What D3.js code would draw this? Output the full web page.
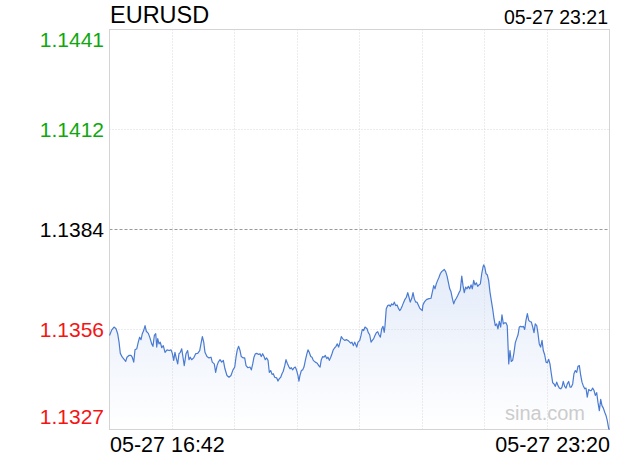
<!DOCTYPE html>
<html><head><meta charset="utf-8">
<script src="https://cdn.jsdelivr.net/npm/d3@7"></script>
<style>body{margin:0;background:#fff}svg{display:block}</style>
</head><body><svg id="c" width="620" height="460"></svg>
<script>
const symbol = "EURUSD";
const updateTime = "05-27 23:21";
const xLabels = ["05-27 16:42", "05-27 23:20"];
const sessionMinutes = 398;
const yTickValues = [1.1441, 1.14125, 1.1384, 1.13555, 1.1327];
const yTickLabels = ["1.1441", "1.1412", "1.1384", "1.1356", "1.1327"];
const prevClose = 1.1384;
const watermark = "sina.com";

const times = [0,1.8,3.6,5.2,6.5,7.6,8.6,10.2,11.8,12.9,13.9,15.5,17.1,18.1,19.3,20.3,21.7,22.9,24.0,25.1,26.1,27.2,28.3,29.3,30.9,32.2,33.6,34.6,35.7,36.8,37.6,38.4,39.4,40.4,41.6,42.8,44.2,45.8,47.4,49.0,50.0,51.1,52.1,53.2,54.3,55.3,56.4,57.5,58.5,59.5,60.9,62.2,63.3,64.3,65.4,67.0,68.6,70.2,71.8,72.8,73.9,75.0,76.0,77.6,79.2,80.8,81.8,83.4,84.5,85.6,86.6,88.0,89.3,90.6,91.9,93.5,95.1,96.7,98.3,
99.7,100.7,101.7,102.8,103.9,104.9,106.5,107.6,108.7,110.2,111.8,112.9,114.0,115.0,116.1,117.2,118.8,119.8,120.8,121.9,123.0,124.0,125.1,126.2,127.2,128.3,129.4,130.4,131.5,133.1,134.1,135.2,136.3,137.3,138.3,139.5,140.5,141.5,142.6,143.7,144.7,145.8,146.9,147.9,149.0,150.0,150.8,151.6,152.7,153.8,154.8,155.9,157.0,158.0,159.0,160.2,161.2,162.2,163.8,165.4,166.5,167.6,168.6,169.7,170.7,171.8,172.9,173.9,175.0,176.1,177.1,178.1,179.3,180.3,181.3,182.4,183.5,184.5,185.6,187.2,188.8,190.4,192.0,193.0,194.1,195.2,196.8,197.8,199.2,
200.2,201.2,202.3,203.4,205.0,206.0,207.1,208.2,209.2,210.3,211.3,212.4,213.5,214.5,215.6,216.7,217.7,218.7,219.3,220.3,221.4,222.5,223.5,224.6,225.7,226.7,227.8,228.9,229.9,231.0,232.0,233.1,234.2,235.2,236.3,237.4,238.4,239.4,240.6,241.6,242.6,243.7,244.8,245.8,246.9,248.0,249.0,249.5,250.6,251.7,252.7,254.3,255.9,256.9,258.1,259.1,260.1,261.2,262.3,263.3,264.4,265.5,266.5,267.6,268.7,269.7,270.8,271.8,272.9,274.0,275.0,276.1,277.2,278.2,279.2,280.4,281.4,282.4,283.5,284.6,285.6,286.7,287.8,288.8,289.9,290.9,292.0,293.1,294.1,295.2,296.3,297.3,297.9,298.7,299.7,300.7,301.8,302.9,303.9,305.0,306.1,307.1,308.2,309.2,310.3,311.4,312.4,313.5,314.6,315.6,316.6,317.8,318.8,319.8,320.9,322.0,323.0,324.1,325.2,326.2,327.3,328.4,329.4,330.5,331.5,332.6,333.7,334.7,335.8,336.9,337.9,338.9,340.1,341.1,342.1,343.2,344.3,345.3,346.4,347.5,348.5,349.6,350.6,351.7,352.8,353.8,354.9,356.0,357.0,358.1,359.2,360.2,361.2,362.3,363.4,364.4,365.5,366.6,367.6,368.7,369.7,370.8,371.9,372.9,374.0,375.1,376.1,377.1,378.3,379.3,380.3,381.4,382.5,383.5,384.6,385.7,386.7,387.8,388.8,389.9,391.0,392.0,393.1,394.2,395.2,396.2,397.4,398.0];

const prices = [1.13538,1.13554,1.13562,1.13557,1.13543,1.13519,1.13487,1.13476,1.13469,1.13464,1.13476,1.13481,1.13481,1.13476,1.13462,1.13497,1.13500,1.13519,1.13533,1.13526,1.13543,1.13552,1.13566,1.13550,1.13544,1.13531,1.13514,1.13507,1.13538,1.13543,1.13505,1.13529,1.13514,1.13519,1.13503,1.13509,1.13490,1.13497,1.13495,1.13497,1.13487,1.13467,1.13490,1.13472,1.13457,1.13486,1.13490,1.13500,1.13476,1.13452,1.13486,1.13495,1.13469,1.13476,1.13469,1.13474,1.13486,1.13487,1.13495,1.13514,1.13535,1.13519,1.13490,1.13478,1.13474,1.13476,1.13462,1.13457,1.13433,1.13452,1.13462,1.13469,1.13462,1.13467,1.13443,1.13424,1.13419,1.13424,1.13440,
1.13448,1.13476,1.13497,1.13507,1.13495,1.13478,1.13474,1.13474,1.13452,1.13446,1.13448,1.13440,1.13457,1.13476,1.13486,1.13487,1.13484,1.13486,1.13478,1.13486,1.13478,1.13469,1.13474,1.13467,1.13433,1.13438,1.13427,1.13429,1.13419,1.13417,1.13408,1.13415,1.13419,1.13429,1.13436,1.13452,1.13469,1.13459,1.13450,1.13443,1.13446,1.13440,1.13446,1.13448,1.13438,1.13424,1.13408,1.13424,1.13438,1.13440,1.13448,1.13467,1.13484,1.13497,1.13490,1.13478,1.13476,1.13467,1.13462,1.13459,1.13452,1.13448,1.13469,1.13478,1.13476,1.13481,1.13472,1.13476,1.13467,1.13476,1.13486,1.13497,1.13503,1.13507,1.13514,1.13505,1.13519,1.13535,1.13529,1.13524,1.13526,1.13522,1.13516,1.13519,1.13509,1.13519,1.13505,1.13519,1.13524,
1.13538,1.13555,1.13552,1.13562,1.13557,1.13546,1.13540,1.13519,1.13524,1.13529,1.13538,1.13546,1.13549,1.13540,1.13533,1.13557,1.13564,1.13547,1.13566,1.13614,1.13623,1.13625,1.13621,1.13628,1.13625,1.13633,1.13623,1.13625,1.13616,1.13609,1.13614,1.13623,1.13633,1.13641,1.13647,1.13660,1.13647,1.13633,1.13644,1.13660,1.13643,1.13633,1.13633,1.13625,1.13616,1.13612,1.13609,1.13625,1.13633,1.13638,1.13641,1.13643,1.13644,1.13660,1.13680,1.13671,1.13685,1.13695,1.13704,1.13714,1.13720,1.13723,1.13726,1.13720,1.13707,1.13690,1.13671,1.13663,1.13644,1.13628,1.13638,1.13644,1.13652,1.13660,1.13666,1.13707,1.13680,1.13660,1.13676,1.13671,1.13678,1.13671,1.13682,1.13671,1.13695,1.13682,1.13688,1.13678,1.13682,1.13685,1.13714,1.13733,1.13739,1.13733,1.13714,1.13711,1.13695,1.13661,1.13638,1.13614,1.13585,1.13566,1.13571,1.13557,1.13578,1.13562,1.13597,1.13571,1.13574,1.13574,1.13566,1.13457,1.13495,1.13464,1.13467,1.13490,1.13517,1.13529,1.13540,1.13562,1.13564,1.13562,1.13564,1.13555,1.13581,1.13600,1.13581,1.13578,1.13576,1.13562,1.13546,1.13571,1.13566,1.13543,1.13514,1.13505,1.13524,1.13495,1.13483,1.13462,1.13460,1.13470,1.13457,1.13429,1.13403,1.13400,1.13393,1.13405,1.13395,1.13388,1.13386,1.13391,1.13407,1.13393,1.13388,1.13400,1.13407,1.13391,1.13391,1.13400,1.13429,1.13438,1.13433,1.13450,1.13452,1.13424,1.13405,1.13395,1.13386,1.13388,1.13362,1.13384,1.13381,1.13381,1.13388,1.13381,1.13367,1.13375,1.13348,1.13324,1.13356,1.13338,1.13331,1.13319,1.13310,1.13296,1.13272,1.13270];

const data = d3.zip(times, prices);

const svg = d3.select("#c");
const L = 109.5, T = 29.5, W = 500, H = 400;
const FONT = "'Liberation Sans', Arial, Helvetica, sans-serif";

const x = d3.scaleLinear().domain([0, sessionMinutes]).range([L, L + W]);
const y = d3.scaleLinear().domain([1.1327, 1.1441]).range([T + H, T]);

// gradient
const defs = svg.append("defs");
const grad = defs.append("linearGradient").attr("id", "fillGrad")
  .attr("gradientUnits", "userSpaceOnUse")
  .attr("x1", 0).attr("x2", 0)
  .attr("y1", y(d3.max(prices))).attr("y2", T + H);
grad.append("stop").attr("offset", 0).attr("stop-color", "#e3ebf9");
grad.append("stop").attr("offset", 1).attr("stop-color", "#ffffff");

// area
svg.append("path").datum(data)
  .attr("fill", "url(#fillGrad)")
  .attr("d", d3.area().x(d => x(d[0])).y0(T + H).y1(d => y(d[1])));

// vertical grid
const vCols = 8;
for (let i = 1; i < vCols; i++) {
  const xv = Math.round(x(i * sessionMinutes / vCols) - 0.5) + 0.5;
  svg.append("line").attr("x1", xv).attr("x2", xv).attr("y1", T).attr("y2", T + H)
    .attr("stroke", "#d8d8d8").attr("stroke-dasharray", "1,2");
}
// horizontal grid
yTickValues.forEach((v, i) => {
  if (i === 0 || i === yTickValues.length - 1) return;
  const yv = Math.round(y(v) - 0.5) + 0.5;
  const mid = Math.abs(v - prevClose) < 1e-6;
  svg.append("line").attr("x1", L).attr("x2", L + W).attr("y1", yv).attr("y2", yv)
    .attr("stroke", mid ? "#9a9a9a" : "#d8d8d8")
    .attr("stroke-dasharray", mid ? "3,2" : "1,2");
});

// border
svg.append("rect").attr("x", L).attr("y", T).attr("width", W).attr("height", H)
  .attr("fill", "none").attr("stroke", "#d4d4d4");

// watermark
svg.append("text").attr("x", 585).attr("y", 420).attr("text-anchor", "end")
  .attr("font-family", FONT).attr("font-size", 20).attr("fill", "#cccccc").text(watermark);

// line
svg.append("path").datum(data)
  .attr("fill", "none").attr("stroke", "#4a7bd2").attr("stroke-width", 1.2)
  .attr("stroke-linejoin", "round")
  .attr("d", d3.line().x(d => x(d[0])).y(d => y(d[1])));

// y labels
yTickValues.forEach((v, i) => {
  const yv = y(v);
  let by = yv + 7.5;
  if (i === 0) by = yv + 17.5;
  if (i === yTickValues.length - 1) by = yv - 6;
  const col = v > prevClose + 1e-6 ? "#0ea80e" : (v < prevClose - 1e-6 ? "#f41414" : "#000000");
  svg.append("text").attr("x", 104).attr("y", by).attr("text-anchor", "end")
    .attr("font-family", FONT).attr("font-size", 21).attr("fill", col).text(yTickLabels[i]);
});

// title and time
svg.append("text").attr("x", 110).attr("y", 23).attr("font-family", FONT)
  .attr("font-size", 23.5).attr("fill", "#000").text(symbol);
svg.append("text").attr("x", 608).attr("y", 23.5).attr("text-anchor", "end").attr("font-family", FONT)
  .attr("font-size", 19.5).attr("fill", "#000").text(updateTime);

// x labels
svg.append("text").attr("x", 110).attr("y", 452).attr("font-family", FONT)
  .attr("font-size", 21.5).attr("fill", "#000").text(xLabels[0]);
svg.append("text").attr("x", 610).attr("y", 452).attr("text-anchor", "end").attr("font-family", FONT)
  .attr("font-size", 21.5).attr("fill", "#000").text(xLabels[1]);
</script></body></html>
